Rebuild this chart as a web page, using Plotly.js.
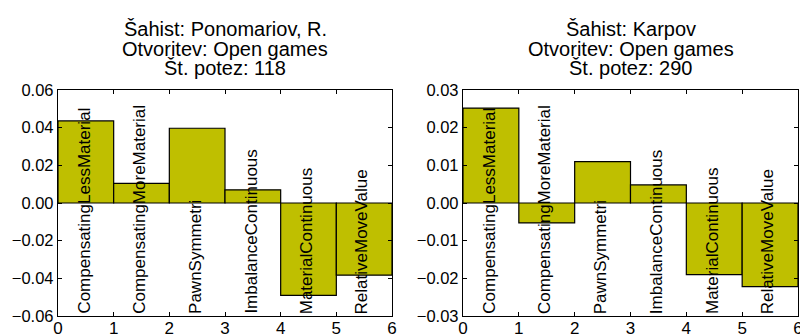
<!DOCTYPE html>
<html>
<head>
<meta charset="utf-8">
<script src="https://cdn.plot.ly/plotly-3.0.1.min.js"></script>
<style>html,body{margin:0;padding:0;background:#fff}#chart{width:800px;height:336px}</style>
</head>
<body>
<div id="chart"></div>
<script>
const features = ["CompensatingLessMaterial","CompensatingMoreMaterial","PawnSymmetri","ImbalanceContinuous","MaterialContinuous","RelativeMoveValue"];
const positions = [0,1,2,3,4,5];
const ponomariovValues = [0.0436,0.0104,0.0397,0.0070,-0.0491,-0.0383];
const karpovValues = [0.0252,-0.0053,0.0110,0.0048,-0.0190,-0.0222];
const titlesLeft = ["Šahist: Ponomariov, R.","Otvoritev: Open games","Št. potez: 118"];
const titlesRight = ["Šahist: Karpov","Otvoritev: Open games","Št. potez: 290"];
const xTicks = [0,1,2,3,4,5,6];
const yTicksLeft = [-0.06,-0.04,-0.02,0.00,0.02,0.04,0.06];
const yTicksRight = [-0.03,-0.02,-0.01,0.00,0.01,0.02,0.03];

const FONT = "Liberation Sans, Arial, sans-serif";
const W=800,H=336,ML=58,MR=2,MT=90,MB=20;
const pw=W-ML-MR, ph=H-MT-MB;
const dom1=[0,(392-ML)/pw], dom2=[(463-ML)/pw,1];

function bar(vals, xa, ya){
  return {type:'bar', x:positions, y:vals, width:1, offset:0, xaxis:xa, yaxis:ya,
    marker:{color:'#bfbf00', line:{color:'#000', width:1.2}}, showlegend:false, hoverinfo:'none'};
}
function axX(dom, anchor){
  return {domain:dom, anchor:anchor, range:[0,6], tickvals:xTicks, ticktext:xTicks.map(String),
    ticks:'inside', ticklen:4, tickcolor:'#000', showline:true, linecolor:'#000', linewidth:1.2, mirror:'ticks',
    showgrid:false, zeroline:false, ticklabelstandoff:-4, ticklabeloverflow:'allow',
    tickfont:{family:FONT,size:17,color:'#000'}};
}
function axY(range, tv, anchor){
  return {domain:[0,1], anchor:anchor, range:range, tickvals:tv, ticktext:tv.map(v=>(v<0?'\u2212':'')+Math.abs(v).toFixed(2)),
    ticks:'inside', ticklen:4, tickcolor:'#000', showline:true, linecolor:'#000', linewidth:1.2, mirror:'ticks',
    showgrid:false, zeroline:false, tickfont:{family:FONT,size:16.5,color:'#000'}};
}
const ann=[];
const lineY=[29.5,49,68.5];
function titles(lines, dom){
  const cx=(dom[0]+dom[1])/2;
  lines.forEach((t,i)=>ann.push({text:t, xref:'paper', yref:'paper', x:cx, y:(H-MB-lineY[i])/ph,
    xanchor:'center', yanchor:'middle', showarrow:false, font:{family:FONT,size:20,color:'#000'}}));
}
titles(titlesLeft, dom1); titles(titlesRight, dom2);
function labels(xr, yr, ymin){
  features.forEach((f,i)=>ann.push({text:f, xref:xr, yref:yr, x:positions[i]+0.46, y:ymin, textangle:-90,
    xanchor:'center', yanchor:'bottom', showarrow:false, font:{family:FONT,size:17,color:'#000'}}));
}
labels('x','y',-0.06); labels('x2','y2',-0.03);

Plotly.newPlot('chart',[bar(ponomariovValues,'x','y'), bar(karpovValues,'x2','y2')],{
  width:W,height:H, margin:{l:ML,r:MR,t:MT,b:MB}, paper_bgcolor:'#fff', plot_bgcolor:'#fff',
  xaxis:axX(dom1,'y'), yaxis:axY([-0.06,0.06],yTicksLeft,'x'),
  xaxis2:axX(dom2,'y2'), yaxis2:axY([-0.03,0.03],yTicksRight,'x2'),
  annotations:ann, bargap:0
},{staticPlot:true});
</script>
</body>
</html>
